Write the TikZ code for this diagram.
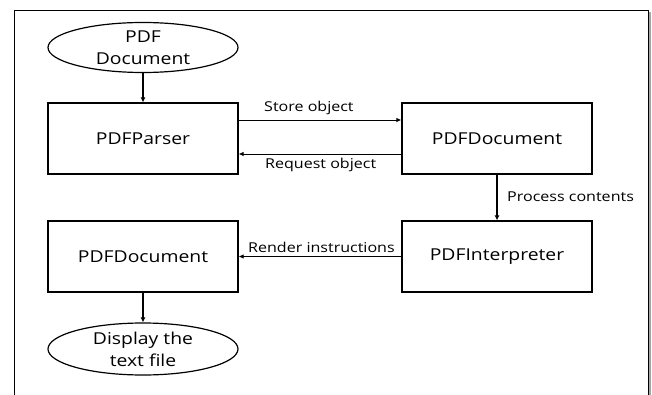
\documentclass[tikz,border=0pt]{standalone}
\usepackage{fontspec}
\setmainfont[FakeStretch=1.18]{Open Sans}
\usetikzlibrary{shapes.geometric,arrows.meta}
\begin{document}
\begin{tikzpicture}[x=1pt,y=-1pt,
  box/.style={draw, line width=1.2pt, minimum width=190pt, minimum height=71pt, inner sep=0pt, font=\fontsize{16.4}{19}\selectfont},
  oval/.style={draw, ellipse, line width=1.2pt, minimum width=190pt, minimum height=50pt, inner sep=0pt, align=center, font=\fontsize{16.4}{22}\selectfont},
  arr/.style={line width=0.9pt, -{Latex[length=5pt,width=4.5pt]}},
  varr/.style={line width=1.3pt, -{Latex[length=5pt,width=5pt]}},
  lbl/.style={inner sep=0pt, anchor=base west, font=\fontsize{13.6}{16}\selectfont}]
\useasboundingbox (0,0) rectangle (652,395);
% frame
\draw[gray!70, line width=2pt] (650,12) -- (650,395);
\draw[line width=0.9pt] (14,395) -- (14,10) -- (648,10) -- (648,395);
% nodes
\node[oval] (src) at (143,47.5) {PDF\\Document};
\node[box] (parser) at (143,138.5) {PDFParser};
\node[box] (doc1) at (497,138.5) {PDFDocument};
\node[box] (interp) at (497,256.5) {PDFInterpreter};
\node[box] (doc2) at (143,256.5) {PDFDocument};
\node[oval, minimum height=52pt] (disp) at (143,349) {Display the\\text file};
% connectors
\draw[varr] (src) -- (parser);
\draw[arr] ([yshift=18.5pt]parser.east) -- ([yshift=18.5pt]doc1.west);
\draw[arr] ([yshift=-15.5pt]doc1.west) -- ([yshift=-15.5pt]parser.east);
\draw[varr] (doc1) -- (interp);
\draw[arr] (interp) -- (doc2);
\draw[varr] (doc2) -- (disp);
% labels
\node[lbl] (l1) at (264,112) {Store object};
\node[lbl] (l2) at (265,169) {Request object};
\node[lbl] (l3) at (507,202) {Process contents};
\node[lbl] (l4) at (248,252) {Render instructions};
\end{tikzpicture}
\end{document}
